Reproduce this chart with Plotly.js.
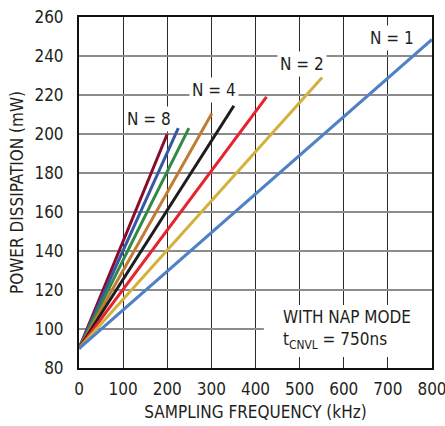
<!DOCTYPE html>
<html>
<head>
<meta charset="utf-8">
<script src="https://cdn.plot.ly/plotly-3.0.1.min.js"></script>
<style>html,body{margin:0;padding:0;background:#fff;}#chart{width:445px;height:426px;}</style>
</head>
<body>
<div id="chart"></div>
<script>
// Data (start at 0 kHz, end point per N)
const seriesNames = ["N = 1", "N = 2", "N = 3", "N = 4", "N = 5", "N = 6", "N = 7", "N = 8"];
const startFreq = 0;
const startPower = 90;
const endFreq = [800, 551, 425, 351, 301, 249, 225, 200];
const endPower = [248.5, 229, 219, 214.5, 210.5, 203, 203, 200];
const colors = ["#4f81c4", "#d2b23c", "#e6232e", "#1c1c1c", "#c27b34", "#2f8a46", "#3656a6", "#8a0b2c"];

const xTicks = [0, 100, 200, 300, 400, 500, 600, 700, 800];
const yTicks = [80, 100, 120, 140, 160, 180, 200, 220, 240, 260];

const FONT = "'Liberation Sans Narrow', 'Arial Narrow', 'DejaVu Sans Condensed', sans-serif";
const TXT = "#231f20";
const FS = 17;

const traces = seriesNames.map((n, i) => ({
  type: "scatter", mode: "lines", name: n,
  x: [startFreq, endFreq[i]],
  y: [startPower, endPower[i]],
  line: {color: colors[i], width: 3},
  hoverinfo: "skip"
})).reverse();

// Curve labels
const labelText = ["N = 1", "N = 2", "N = 4", "N = 8"];
const labelX = [709, 505, 306, 159];
const labelY = [249, 236, 222.6, 207.5];

const annotations = labelText.map((t, i) => ({
  x: labelX[i], y: labelY[i], xref: "x", yref: "y", text: t, showarrow: false,
  font: {family: FONT, size: FS, color: TXT}, bgcolor: "#ffffff", borderpad: 2
}));
annotations.push({
  x: 457, y: 99.5, xref: "x", yref: "y", xanchor: "left", yanchor: "middle", align: "left",
  text: "WITH NAP MODE<br>t<sub>CNVL</sub> = 750ns", showarrow: false,
  font: {family: FONT, size: FS, color: TXT}
});

const layout = {
  width: 445, height: 426,
  margin: {l: 79, r: 13, t: 17, b: 58},
  paper_bgcolor: "#ffffff", plot_bgcolor: "#ffffff",
  showlegend: false,
  font: {family: FONT, size: FS, color: TXT},
  xaxis: {
    range: [0, 800], tickvals: xTicks, ticktext: xTicks.map(String),
    showgrid: true, gridcolor: "#2a2a2a", gridwidth: 1.2,
    zeroline: false, showline: true, linecolor: "#111", linewidth: 2, mirror: true,
    ticks: "", ticklabelstandoff: 5, ticklabeloverflow: "allow",
    tickfont: {family: FONT, size: FS, color: TXT},
    title: {text: "SAMPLING FREQUENCY (kHz)", font: {family: FONT, size: FS, color: TXT}, standoff: 8}
  },
  yaxis: {
    range: [80, 260], tickvals: yTicks, ticktext: yTicks.map(String),
    showgrid: true, gridcolor: "#8c8c8c", gridwidth: 1.5,
    zeroline: false, showline: true, linecolor: "#111", linewidth: 2, mirror: true,
    ticks: "", ticklabelstandoff: 10, ticklabeloverflow: "allow",
    tickfont: {family: FONT, size: FS, color: TXT},
    title: {text: "POWER DISSIPATION (mW)", font: {family: FONT, size: FS, color: TXT}, standoff: 6}
  },
  shapes: [{
    type: "rect", xref: "x", yref: "y", x0: 419, x1: 800, y0: 85.6, y1: 112.3,
    fillcolor: "#ffffff", line: {width: 0}, layer: "between"
  }],
  annotations: annotations
};

Plotly.newPlot("chart", traces, layout, {displayModeBar: false, staticPlot: true});
</script>
</body>
</html>
